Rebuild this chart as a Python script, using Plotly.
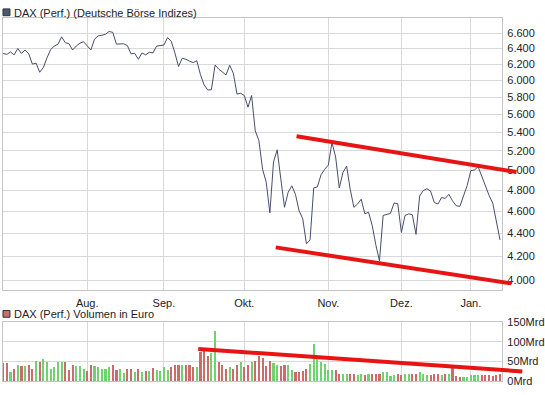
import math
import pandas as pd
import plotly.graph_objects as go

# ---------------- data ----------------
holidays = ["2008-12-24", "2008-12-25", "2008-12-26", "2008-12-31", "2009-01-01"]
dates = [d.strftime("%Y-%m-%d") for d in pd.bdate_range("2008-07-01", "2009-01-14")
         if d.strftime("%Y-%m-%d") not in holidays]

close = [6337, 6324, 6356, 6318, 6400, 6337, 6381, 6331, 6201, 6213,
         6099, 6159, 6281, 6387, 6432, 6457, 6554, 6476, 6463, 6381,
         6432, 6470, 6489, 6432, 6381, 6522, 6567, 6574, 6587, 6626,
         6613, 6457, 6460, 6462, 6438, 6331, 6337, 6262, 6343, 6318,
         6352, 6343, 6432, 6441, 6445, 6544, 6496, 6343, 6171, 6275,
         6262, 6238, 6220, 6244, 6069, 5945, 5883, 5887, 6189, 6138,
         6099, 6066, 6186, 6087, 5835, 5844, 5818, 5682, 5818, 5415,
         5308, 5010, 4880, 4585, 5085, 5211, 4910, 4637, 4780, 4844,
         4761, 4605, 4531, 4306, 4340, 4823, 4833, 4953, 5009, 5052,
         5290, 5135, 4823, 4976, 5042, 4808, 4637, 4668, 4714, 4576,
         4591, 4471, 4297, 4159, 4561, 4567, 4580, 4677, 4672, 4407,
         4561, 4576, 4567, 4389, 4745, 4798, 4815, 4792, 4683, 4668,
         4730, 4722, 4761, 4698, 4652, 4646, 4745, 4846, 4995, 5002,
         5035, 4933, 4846, 4751, 4677, 4519, 4340]

volume = [45, 45, 24, 32, 42, 39, 39, 42, 32, 51, 49, 56, 49, 32, 36, 49, 49, 49, 28, 41,
          38, 38, 32, 25, 41, 38, 36, 32, 32, 36, 41, 28, 30, 21, 32, 30, 24, 32, 24, 25,
          25, 34, 28, 25, 36, 28, 36, 42, 42,
          42, 40, 40, 36, 37, 74, 78, 63, 72, 126, 49, 42, 30, 36, 30, 42, 49, 37, 40, 49,
          50, 63, 59, 38, 52, 46, 42, 38, 40, 42, 28, 22, 22, 25, 32, 44, 95, 65, 49, 44, 28,
          28, 28, 19, 19, 19, 19, 17, 15, 17, 15, 17, 19, 19, 19, 22, 22, 14, 15, 17, 15,
          17, 17, 17, 17, 22, 19, 15, 15, 17, 19, 15, 19, 19, 40, 13, 11, 11, 11, 15, 15,
          15, 15, 15, 15, 14, 15, 19]

price_ticks = [4000, 4200, 4400, 4600, 4800, 5000, 5200, 5400, 5600, 5800, 6000, 6200, 6400, 6600]
price_tick_text = ["4.000", "4.200", "4.400", "4.600", "4.800", "5.000", "5.200", "5.400",
                   "5.600", "5.800", "6.000", "6.200", "6.400", "6.600"]
vol_ticks = [0, 50, 100, 150]
vol_tick_text = ["0Mrd", "50Mrd", "100Mrd", "150Mrd"]
month_labels = ["Aug.", "Sep.", "Okt.", "Nov.", "Dez.", "Jan."]

# trend lines: (trading-day index, value)
upper_trend = [(80.3, 5357), (140.5, 4982)]
lower_trend = [(74.6, 4275), (139.1, 3974)]
volume_trend = [(53.4, 82), (142.1, 25)]

legend_price = "DAX (Perf.) (Deutsche Börse Indizes)"
legend_volume = "DAX (Perf.) Volumen in Euro"

# ---------------- layout geometry ----------------
W, H = 545, 395
x_dom = [3 / W, 503 / W]
y_dom_main = [1 - 293 / H, 1 - 12 / H]
y_dom_vol = [1 - 387 / H, 1 - 326 / H]
x_range = [-0.05, 136.56]
y_range_main = [math.log10(3920), math.log10(6814)]
y_range_vol = [0, 150]

# month starts
month_first = []
seen = set()
for d in dates:
    m = d[:7]
    if m not in seen:
        seen.add(m)
        month_first.append(d)
month_ticks = month_first[1:]

up_color = "#6fd26f"
down_color = "#cd6a6a"
bar_colors = [down_color] + [up_color if close[i] > close[i - 1] else down_color
                             for i in range(1, len(close))]

fig = go.Figure()
fig.add_trace(go.Scatter(x=dates, y=close, mode="lines",
                         line=dict(color="#474e6a", width=1),
                         xaxis="x", yaxis="y", showlegend=False, hoverinfo="skip"))
fig.add_trace(go.Bar(x=dates, y=volume, marker=dict(color=bar_colors, line=dict(width=0)),
                     width=0.58, xaxis="x2", yaxis="y2", showlegend=False, hoverinfo="skip"))


def xp(idx):
    return x_dom[0] + (idx - x_range[0]) / (x_range[1] - x_range[0]) * (x_dom[1] - x_dom[0])


def yp_main(v):
    return y_dom_main[0] + (math.log10(v) - y_range_main[0]) / (y_range_main[1] - y_range_main[0]) * (
        y_dom_main[1] - y_dom_main[0])


def yp_vol(v):
    return y_dom_vol[0] + (v - y_range_vol[0]) / (y_range_vol[1] - y_range_vol[0]) * (
        y_dom_vol[1] - y_dom_vol[0])


shapes = []
trend_red = "#e81414"
for (a, b) in [upper_trend, lower_trend]:
    shapes.append(dict(type="line", xref="paper", yref="paper",
                       x0=xp(a[0]), y0=yp_main(a[1]), x1=xp(b[0]), y1=yp_main(b[1]),
                       line=dict(color=trend_red, width=4), layer="above"))
shapes.append(dict(type="line", xref="paper", yref="paper",
                   x0=xp(volume_trend[0][0]), y0=yp_vol(volume_trend[0][1]),
                   x1=xp(volume_trend[1][0]), y1=yp_vol(volume_trend[1][1]),
                   line=dict(color=trend_red, width=4), layer="above"))
# legend squares
shapes.append(dict(type="rect", xref="paper", yref="paper",
                   x0=3 / W, x1=10 / W, y0=1 - 10 / H, y1=1 - 3 / H,
                   fillcolor="#4c5874", line=dict(color="#333333", width=1)))
shapes.append(dict(type="rect", xref="paper", yref="paper",
                   x0=3 / W, x1=10 / W, y0=1 - 321 / H, y1=1 - 314 / H,
                   fillcolor="#c87070", line=dict(color="#333333", width=1)))

font = dict(family="Liberation Sans, Arial, sans-serif", size=11, color="#222222")
annotations = [
    dict(text=legend_price, xref="paper", yref="paper", x=12 / W, y=1 - 7 / H,
         xanchor="left", yanchor="middle", showarrow=False, font=font),
    dict(text=legend_volume, xref="paper", yref="paper", x=12 / W, y=1 - 318 / H,
         xanchor="left", yanchor="middle", showarrow=False, font=font),
]

grid = "#d9d9d9"
frame = "#c4c4c4"
common_x = dict(type="category", range=x_range, domain=x_dom, tickvals=month_ticks,
                showgrid=True, gridcolor=grid, gridwidth=1, ticks="", showline=True,
                linecolor=frame, linewidth=1, mirror=True, zeroline=False, fixedrange=True)

fig.update_layout(
    width=W, height=H, margin=dict(l=0, r=0, t=0, b=0),
    paper_bgcolor="white", plot_bgcolor="white", font=font, showlegend=False,
    shapes=shapes, annotations=annotations, bargap=0,
    xaxis=dict(common_x, anchor="y", ticktext=month_labels, showticklabels=True,
               tickfont=font, ticklabelstandoff=3),
    xaxis2=dict(common_x, anchor="y2", matches="x", showticklabels=False),
    yaxis=dict(type="log", range=y_range_main, domain=y_dom_main, side="right",
               tickvals=price_ticks, ticktext=price_tick_text, showgrid=True,
               gridcolor=grid, ticks="", showline=True, linecolor=frame, mirror=True,
               zeroline=False, tickfont=font, anchor="x", ticklabelstandoff=2),
    yaxis2=dict(range=y_range_vol, domain=y_dom_vol, side="right",
                tickvals=vol_ticks, ticktext=vol_tick_text, showgrid=True,
                gridcolor=grid, ticks="", showline=True, linecolor=frame, mirror=True,
                zeroline=False, tickfont=font, anchor="x2", ticklabelstandoff=2),
)

fig.write_html("out.html", config={"displayModeBar": False},
               post_script="document.body.style.margin='0px';document.body.style.overflow='hidden';")
